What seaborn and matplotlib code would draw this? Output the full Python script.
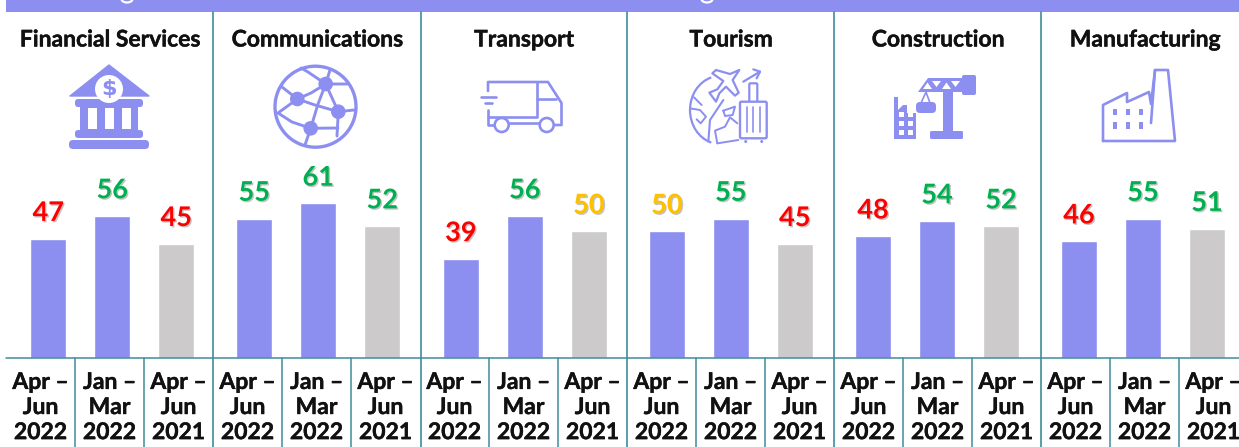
import numpy as np
import pandas as pd
import matplotlib
matplotlib.use("Agg")
import matplotlib.pyplot as plt
import matplotlib.patheffects as pe
from matplotlib.patches import Arc, Circle, FancyBboxPatch, Polygon, Rectangle
import seaborn as sns

# Values
sectors = ["Financial Services", "Communications", "Transport", "Tourism", "Construction", "Manufacturing"]
periods = ["Apr –\nJun\n2022", "Jan –\nMar\n2022", "Apr –\nJun\n2021"]
financial = [47, 56, 45]
communications = [55, 61, 52]
transport = [39, 56, 50]
tourism = [50, 55, 45]
construction = [48, 54, 52]
manufacturing = [46, 55, 51]
series = [financial, communications, transport, tourism, construction, manufacturing]

PURPLE = "#8C8FF0"
GREY = "#CCCACA"
TEAL = "#3F8C9A"
RED = "#FF0000"
AMBER = "#FFC000"
GREEN = "#00B050"
W, H = 1239, 447
HEAD_FONT = "Lato"

sns.set_theme(style="white")
plt.rcParams["font.family"] = ["Lato", "DejaVu Sans"]
fig = plt.figure(figsize=(W / 100, H / 100), dpi=100)

panel_edges = [6, 212.7, 420.5, 626.7, 834, 1041, 1239]
first_centers = [48.25, 254.25, 460.8, 666.8, 873, 1079]
bar_step = 64
base_y = 357.5
top_y = 12
px_per_unit = 2.525
heavy = [pe.withStroke(linewidth=0.3, foreground="#111111")]


def label_color(v):
    if v < 50:
        return RED
    if v == 50:
        return AMBER
    return GREEN


# ✅ Bars, one axes per sector
for i, vals in enumerate(series):
    left, right = panel_edges[i], panel_edges[i + 1]
    ax = fig.add_axes([left / W, 1 - base_y / H, (right - left) / W, (base_y - top_y) / H])
    df = pd.DataFrame({"period": periods, "value": vals})
    sns.barplot(data=df, x="period", y="value", hue="period", ax=ax, width=0.555,
                palette=[PURPLE, PURPLE, GREY], legend=False, saturation=1)
    ax.set_xlim((left - first_centers[i]) / bar_step, (right - first_centers[i]) / bar_step)
    ax.set_ylim(0, (base_y - top_y) / px_per_unit)
    ax.axis("off")
    ax.patch.set_alpha(0)
    for container, v in zip(ax.containers, vals):
        labs = ax.bar_label(container, labels=[str(v)], padding=10, fontsize=19.5, fontweight="bold",
                            color=label_color(v))
        for t in labs:
            t.set_path_effects([pe.SimplePatchShadow(offset=(1, -1), alpha=0.35, shadow_rgbFace="#555555"),
                                pe.Normal()])

# Overlay in pixel coordinates for the frame, texts and icons
ov = fig.add_axes([0, 0, 1, 1], zorder=5)
ov.set_xlim(0, W)
ov.set_ylim(H, 0)
ov.axis("off")
ov.patch.set_alpha(0)

ov.add_patch(Rectangle((6, 0), W - 6, 12, color=PURPLE, lw=0))
# bottoms of the cropped heading
for gx in [127, 707]:
    ov.add_patch(Arc((gx, -1), 11, 7, theta1=0, theta2=180, color="white", lw=1.6))

ov.plot([6, W], [base_y, base_y], color=TEAL, lw=1.1)
for x in panel_edges[1:-1]:
    ov.plot([x, x], [12, H], color=TEAL, lw=1.2)
for i in range(6):
    start = 6 + i * 207
    cell = 69
    for k in range(3):
        cx = start + cell * k + cell / 2
        if k > 0:
            ov.plot([start + cell * k] * 2, [base_y, H], color=TEAL, lw=1.1)
        ov.text(cx, 407.5, periods[k], ha="center", va="center", fontsize=16.5, fontweight="bold",
                color="#111111", family=HEAD_FONT, linespacing=1.24, path_effects=heavy)
    ov.text(110 + i * 207, 40, sectors[i], ha="center", va="center", fontsize=16.5, fontweight="bold",
            color="#111111", family=HEAD_FONT, path_effects=heavy)


def line(pts, lw=1.9, color=PURPLE, z=2):
    xs, ys = zip(*pts)
    ov.plot(xs, ys, color=color, lw=lw, solid_capstyle="round", solid_joinstyle="round", zorder=z)


def rbox(x0, y0, x1, y1, r=3, color=PURPLE):
    ov.add_patch(FancyBboxPatch((x0 + r, y0 + r), x1 - x0 - 2 * r, y1 - y0 - 2 * r,
                                boxstyle=f"round,pad={r}", fc=color, ec="none"))


# Bank icon
ov.add_patch(Polygon([(109, 65), (70, 96), (149, 96)], closed=True, fc=PURPLE, ec=PURPLE, lw=1, joinstyle="round"))
ov.add_patch(Circle((109, 89), 14, fc="white", ec="none", zorder=3))
ov.text(109, 89, "$", ha="center", va="center", fontsize=16, fontweight="bold", color=PURPLE, zorder=4,
        family="DejaVu Sans")
rbox(75, 99, 143, 107)
ov.add_patch(Rectangle((80, 106), 58, 26, fc=PURPLE, ec="none"))
for x in [88, 105, 122]:
    ov.add_patch(Rectangle((x, 108), 8.5, 21, fc="white", ec="none", zorder=3))
rbox(75, 130, 143, 138)
rbox(69, 140, 149, 149, r=4)

# Globe icon
ov.add_patch(Circle((315.5, 106.7), 40.5, fc="none", ec=PURPLE, lw=2.4))
nodes = [(325.7, 84), (297.3, 99), (338.3, 111.7), (310.7, 128.3)]
for n in nodes:
    ov.add_patch(Circle(n, 7.3, fc=PURPLE, ec="none"))
line([(282, 87), (297.3, 99), (311, 93), (325.7, 84), (347, 84)], lw=2.1)
line([(297.3, 99), (315, 105), (338.3, 111.7), (354, 110)], lw=2.1)
line([(325.7, 84), (338.3, 111.7), (337, 136)], lw=2.1)
line([(325.7, 84), (318, 104), (310.7, 128.3), (305, 145)], lw=2.1)
line([(297.3, 99), (278, 113), (292, 122), (310.7, 128.3), (338, 128)], lw=2.1)
line([(325.7, 84), (308, 72), (301, 68)], lw=2.1)
line([(325.7, 84), (330, 70)], lw=2.1)

# Truck icon
line([(488, 91), (488, 82), (548, 82), (561.5, 103), (561.5, 125), (553, 125)], lw=1.9)
line([(488, 110), (488, 125), (494, 125)])
line([(537, 82), (537, 117), (488, 117)])
line([(537, 99), (556, 99)])
line([(509, 123), (539, 123)])
for x in [501.7, 546.7]:
    ov.add_patch(Circle((x, 125), 7, fc="white", ec=PURPLE, lw=1.9, zorder=3))
line([(481, 97), (496, 97)])
line([(485, 103), (492, 103)])


def tz(pts):
    return [(680 + x / 3, 60 + y / 3) for x, y in pts]


# Tourism icon
ov.add_patch(Arc((720, 110), 60, 68, theta1=105, theta2=255, color=PURPLE, lw=1.6))
line(tz([(85, 245), (90, 180), (130, 120)]), lw=1.5)
line(tz([(30, 145), (60, 150), (78, 170), (62, 190), (50, 178)]), lw=1.4)
line(tz([(42, 112), (65, 135)]), lw=1.4)
line(tz([(130, 152), (165, 140), (158, 165), (135, 168), (130, 152)]), lw=1.4)
line(tz([(112, 250), (105, 212), (135, 200), (150, 172), (172, 190)]), lw=1.4)
line(tz([(112, 250), (175, 240)]), lw=1.4)
ov.add_patch(Polygon(tz([(178, 30), (150, 42), (108, 30), (97, 40), (130, 63), (112, 88), (88, 98), (108, 125),
                         (118, 100), (138, 80), (165, 107), (176, 98), (158, 60)]),
                     closed=True, fc="white", ec=PURPLE, lw=1.6, joinstyle="round", zorder=3))
line(tz([(190, 65), (240, 35)]), lw=1.6)
line(tz([(220, 28), (240, 35), (230, 55)]), lw=1.6)
ov.add_patch(FancyBboxPatch((741.5, 103.2), 23.7, 33.6, boxstyle="round,pad=1.5", fc="white", ec=PURPLE, lw=1.7,
                            zorder=3))
ov.add_patch(FancyBboxPatch((750.5, 84.5), 5.6, 17, boxstyle="round,pad=1.2", fc="none", ec=PURPLE, lw=1.6))
for x in [746.7, 753.3, 760]:
    ov.plot([x, x], [106.7, 131.7], color=PURPLE, lw=1.2, zorder=4)
for x in [745.7, 761.7]:
    ov.add_patch(Circle((x, 141.5), 1.5, fc=PURPLE, ec="none"))

# Crane icon
ov.add_patch(Rectangle((943, 88), 10, 45, fc=PURPLE, ec="none"))
rbox(930, 131, 963, 139, r=1.5)
ov.add_patch(Polygon([(918, 92), (928, 78), (964, 78), (964, 92)], closed=True, fc=PURPLE, ec="none"))
for x in [927, 946]:
    ov.add_patch(Polygon([(x - 4, 89), (x + 5, 89), (x + 0.5, 82.5)], closed=True, fc="white", ec="none"))
for x in [936, 955]:
    ov.add_patch(Polygon([(x - 4, 81), (x + 5, 81), (x + 0.5, 87)], closed=True, fc="white", ec="none"))
rbox(962, 75, 976, 95, r=2)
line([(926, 92), (921, 103)], lw=1.2)
line([(926, 92), (930, 103)], lw=1.2)
rbox(916, 102, 936, 113, r=4)
ov.add_patch(Polygon([(894, 97), (898, 97), (898, 110), (903, 105), (907, 105), (907, 113), (916, 113), (916, 139),
                      (894, 139)], closed=True, fc=PURPLE, ec="none"))
for y in [112, 121, 129.5]:
    for x in [898.5, 907.5]:
        ov.add_patch(Rectangle((x, y), 5, 5, fc="white", ec="none"))

# Factory icon
line([(1103, 141), (1103, 105), (1127, 93), (1127, 102), (1149, 92), (1151, 104), (1155, 70), (1168, 70),
      (1175, 141), (1103, 141)], lw=1.9)
line([(1155, 70), (1151, 123)], lw=1.9)
for y in [108.5, 122]:
    for x in [1113, 1126, 1139]:
        ov.add_patch(Rectangle((x, y), 4, 6.5, fc=PURPLE, ec="none"))

plt.savefig("out.png", dpi=100)
print("saved out.png")
